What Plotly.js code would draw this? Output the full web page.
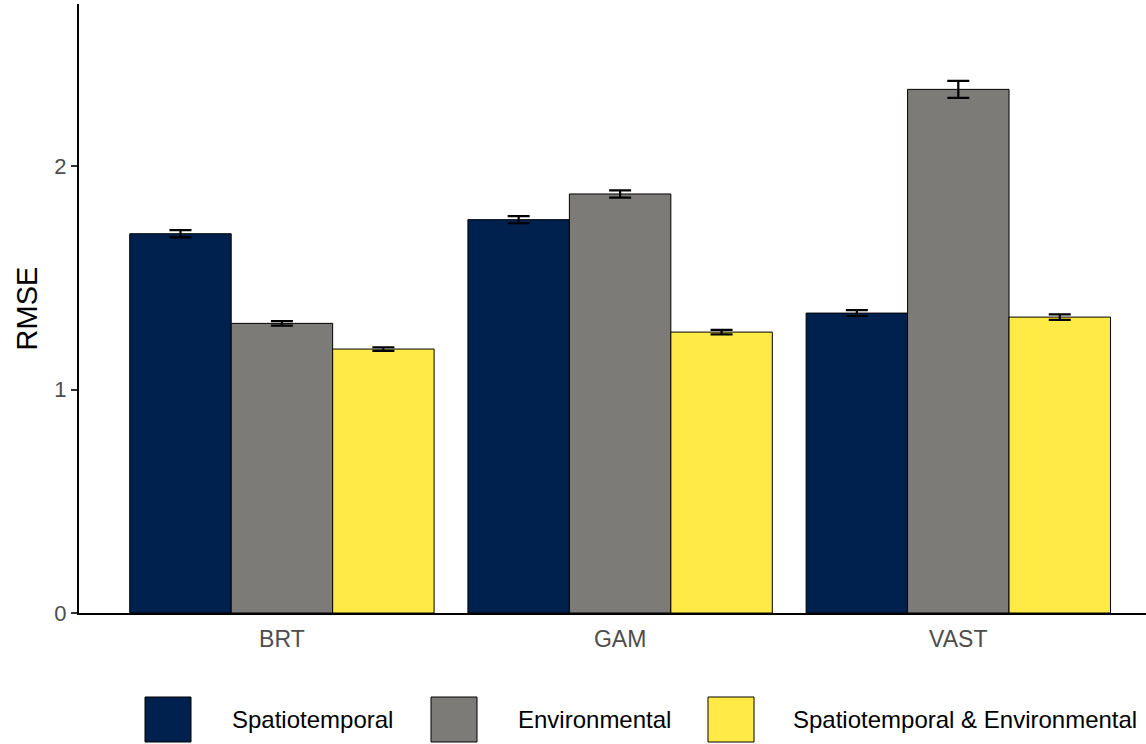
<!DOCTYPE html>
<html>
<head>
<meta charset="utf-8">
<script src="https://cdn.plot.ly/plotly-3.0.1.min.js"></script>
<style>html,body{margin:0;padding:0;background:#fff;}#chart{width:1146px;height:744px;}</style>
</head>
<body>
<div id="chart"></div>
<script>
const models = ["BRT", "GAM", "VAST"];
const seriesNames = ["Spatiotemporal", "Environmental", "Spatiotemporal & Environmental"];
const spatiotemporal = [1.697, 1.760, 1.342];
const spatiotemporalErr = [0.016, 0.016, 0.013];
const environmental = [1.296, 1.875, 2.343];
const environmentalErr = [0.010, 0.016, 0.038];
const combined = [1.181, 1.257, 1.324];
const combinedErr = [0.008, 0.010, 0.012];
const colors = ["#00204D", "#7C7B78", "#FFEA46"];

const values = [spatiotemporal, environmental, combined];
const errs = [spatiotemporalErr, environmentalErr, combinedErr];

const traces = values.map((v, i) => ({
  type: "bar",
  name: seriesNames[i],
  x: models,
  y: v,
  marker: {color: colors[i], line: {color: "#000", width: 1}},
  error_y: {type: "data", array: errs[i], visible: true, color: "#000", thickness: 2.2, width: 11},
  showlegend: false,
  hoverinfo: "x+y+name"
}));

// custom legend (keys + labels) in paper coordinates
const W = 1146, H = 744, ml = 79, mt = 4, mb = 131, mr = 0;
const pw = W - ml - mr, ph = H - mt - mb;
const px = x => (x - ml) / pw;
const py = y => (H - mb - y) / ph;
const keyX = [145, 431, 708];
const textX = [230, 516, 791];
const shapes = [];
const annotations = [];
keyX.forEach((kx, i) => {
  shapes.push({type: "rect", xref: "paper", yref: "paper", x0: px(kx), x1: px(kx + 46), y0: py(742), y1: py(697),
    fillcolor: colors[i], line: {color: "#000", width: 1}});
  annotations.push({xref: "paper", yref: "paper", x: px(textX[i]), y: py(719.5), xanchor: "left", yanchor: "middle",
    text: seriesNames[i], showarrow: false, font: {family: "Liberation Sans, Arial, sans-serif", size: 24, color: "#000"}});
});

const layout = {
  width: W, height: H,
  margin: {l: ml, r: mr, t: mt, b: mb, pad: 0},
  paper_bgcolor: "#fff", plot_bgcolor: "#fff",
  barmode: "group", bargap: 0.1, bargroupgap: 0,
  font: {family: "Liberation Sans, Arial, sans-serif"},
  xaxis: {
    type: "category", range: [-0.6, 2.555],
    showline: true, linecolor: "#000", linewidth: 2,
    ticks: "", showgrid: false, zeroline: false,
    tickfont: {size: 23, color: "#4D4D4D"}, ticklabelstandoff: 4
  },
  yaxis: {
    range: [0, 2.725], tickvals: [0, 1, 2], ticktext: ["0", "1", "2"],
    showline: true, linecolor: "#000", linewidth: 2,
    ticks: "outside", ticklen: 6, tickwidth: 2, tickcolor: "#333",
    showgrid: false, zeroline: false,
    tickfont: {size: 22, color: "#4D4D4D"}, ticklabelstandoff: 0,
    title: {text: "RMSE", font: {size: 29, color: "#000"}, standoff: 8}
  },
  shapes: shapes,
  annotations: annotations,
  showlegend: false
};

Plotly.newPlot("chart", traces, layout, {displayModeBar: false, staticPlot: true});
</script>
</body>
</html>
